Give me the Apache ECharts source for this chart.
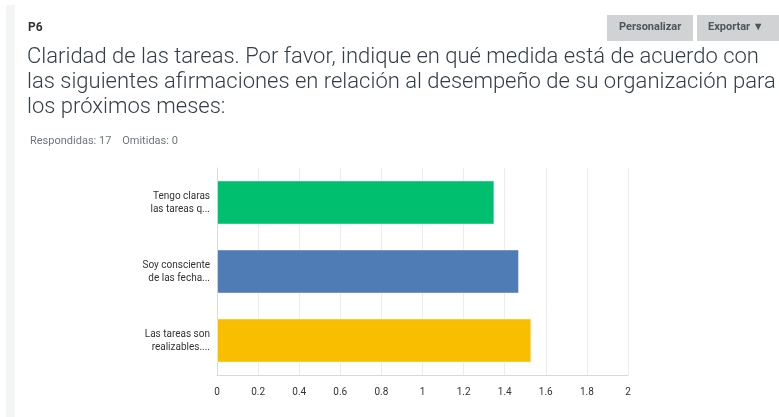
<!DOCTYPE html>
<html><head><meta charset="utf-8">
<script src="https://cdn.jsdelivr.net/npm/echarts@6/dist/echarts.min.js"></script>
<style>html,body{margin:0;padding:0;background:#fff}#c{width:779px;height:417px}</style>
</head><body><div id="c"></div>
<script>
const categories = ["Tengo claras\nlas tareas q...", "Soy consciente\nde las fecha...", "Las tareas son\nrealizables...."];
const values = [1.35, 1.47, 1.53];
const barColors = ["#00bf6f", "#507cb6", "#f9be00"];
const questionLines = [
  "Claridad de las tareas. Por favor, indique en qué medida está de acuerdo con",
  "las siguientes afirmaciones en relación al desempeño de su organización para",
  "los próximos meses:"
];
const chart = echarts.init(document.getElementById('c'));
const font = 'Roboto, "Noto Sans", sans-serif';
chart.setOption({
  animation: false,
  title: [
    {text: 'P6', left: 23, top: 17, textStyle: {fontSize: 12, fontWeight: 'bold', color: '#333', fontFamily: font}},
    {text: questionLines.join('\n'), left: 22, top: 40, textStyle: {fontSize: 22, fontWeight: 300, color: '#333e48', lineHeight: 25, fontFamily: font}},
    {text: 'Respondidas: 17    Omitidas: 0', left: 25, top: 131, textStyle: {fontSize: 11, fontWeight: 'normal', color: '#6b787f', fontFamily: font}}
  ],
  graphic: [
    {type: 'rect', left: 6, top: 5, shape: {width: 9, height: 412}, style: {fill: '#f3f4f4'}},
    {type: 'rect', left: 607, top: 15, shape: {width: 86, height: 26}, style: {fill: '#d0d2d3'}},
    {type: 'text', left: 619, top: 22, style: {text: 'Personalizar', font: 'bold 11px ' + font, fill: '#4c565c'}},
    {type: 'rect', left: 697, top: 15, shape: {width: 82, height: 26}, style: {fill: '#d0d2d3'}},
    {type: 'text', left: 708, top: 22, style: {text: 'Exportar ▼', font: 'bold 11px ' + font, fill: '#4c565c'}}
  ],
  grid: {left: 217, right: 151, top: 168, bottom: 42, containLabel: false},
  xAxis: {
    type: 'value', min: 0, max: 2, interval: 0.2,
    axisLine: {show: true, lineStyle: {color: '#d9d9d9', width: 1}},
    axisTick: {show: false},
    splitLine: {show: true, lineStyle: {color: '#ececec'}},
    axisLabel: {color: '#333', fontSize: 10, margin: 12, fontFamily: font}
  },
  yAxis: {
    type: 'category', data: categories, inverse: true,
    axisLine: {show: true, lineStyle: {color: '#d9d9d9', width: 1}},
    axisTick: {show: false},
    axisLabel: {color: '#333', fontSize: 10, lineHeight: 13, margin: 7, align: 'right', fontFamily: font}
  },
  series: [{
    type: 'bar', barCategoryGap: '36%',
    data: values.map((v, i) => ({value: v, itemStyle: {color: barColors[i]}})),
    itemStyle: {borderColor: 'rgba(255,255,255,0.5)', borderWidth: 1}
  }]
});
</script></body></html>
